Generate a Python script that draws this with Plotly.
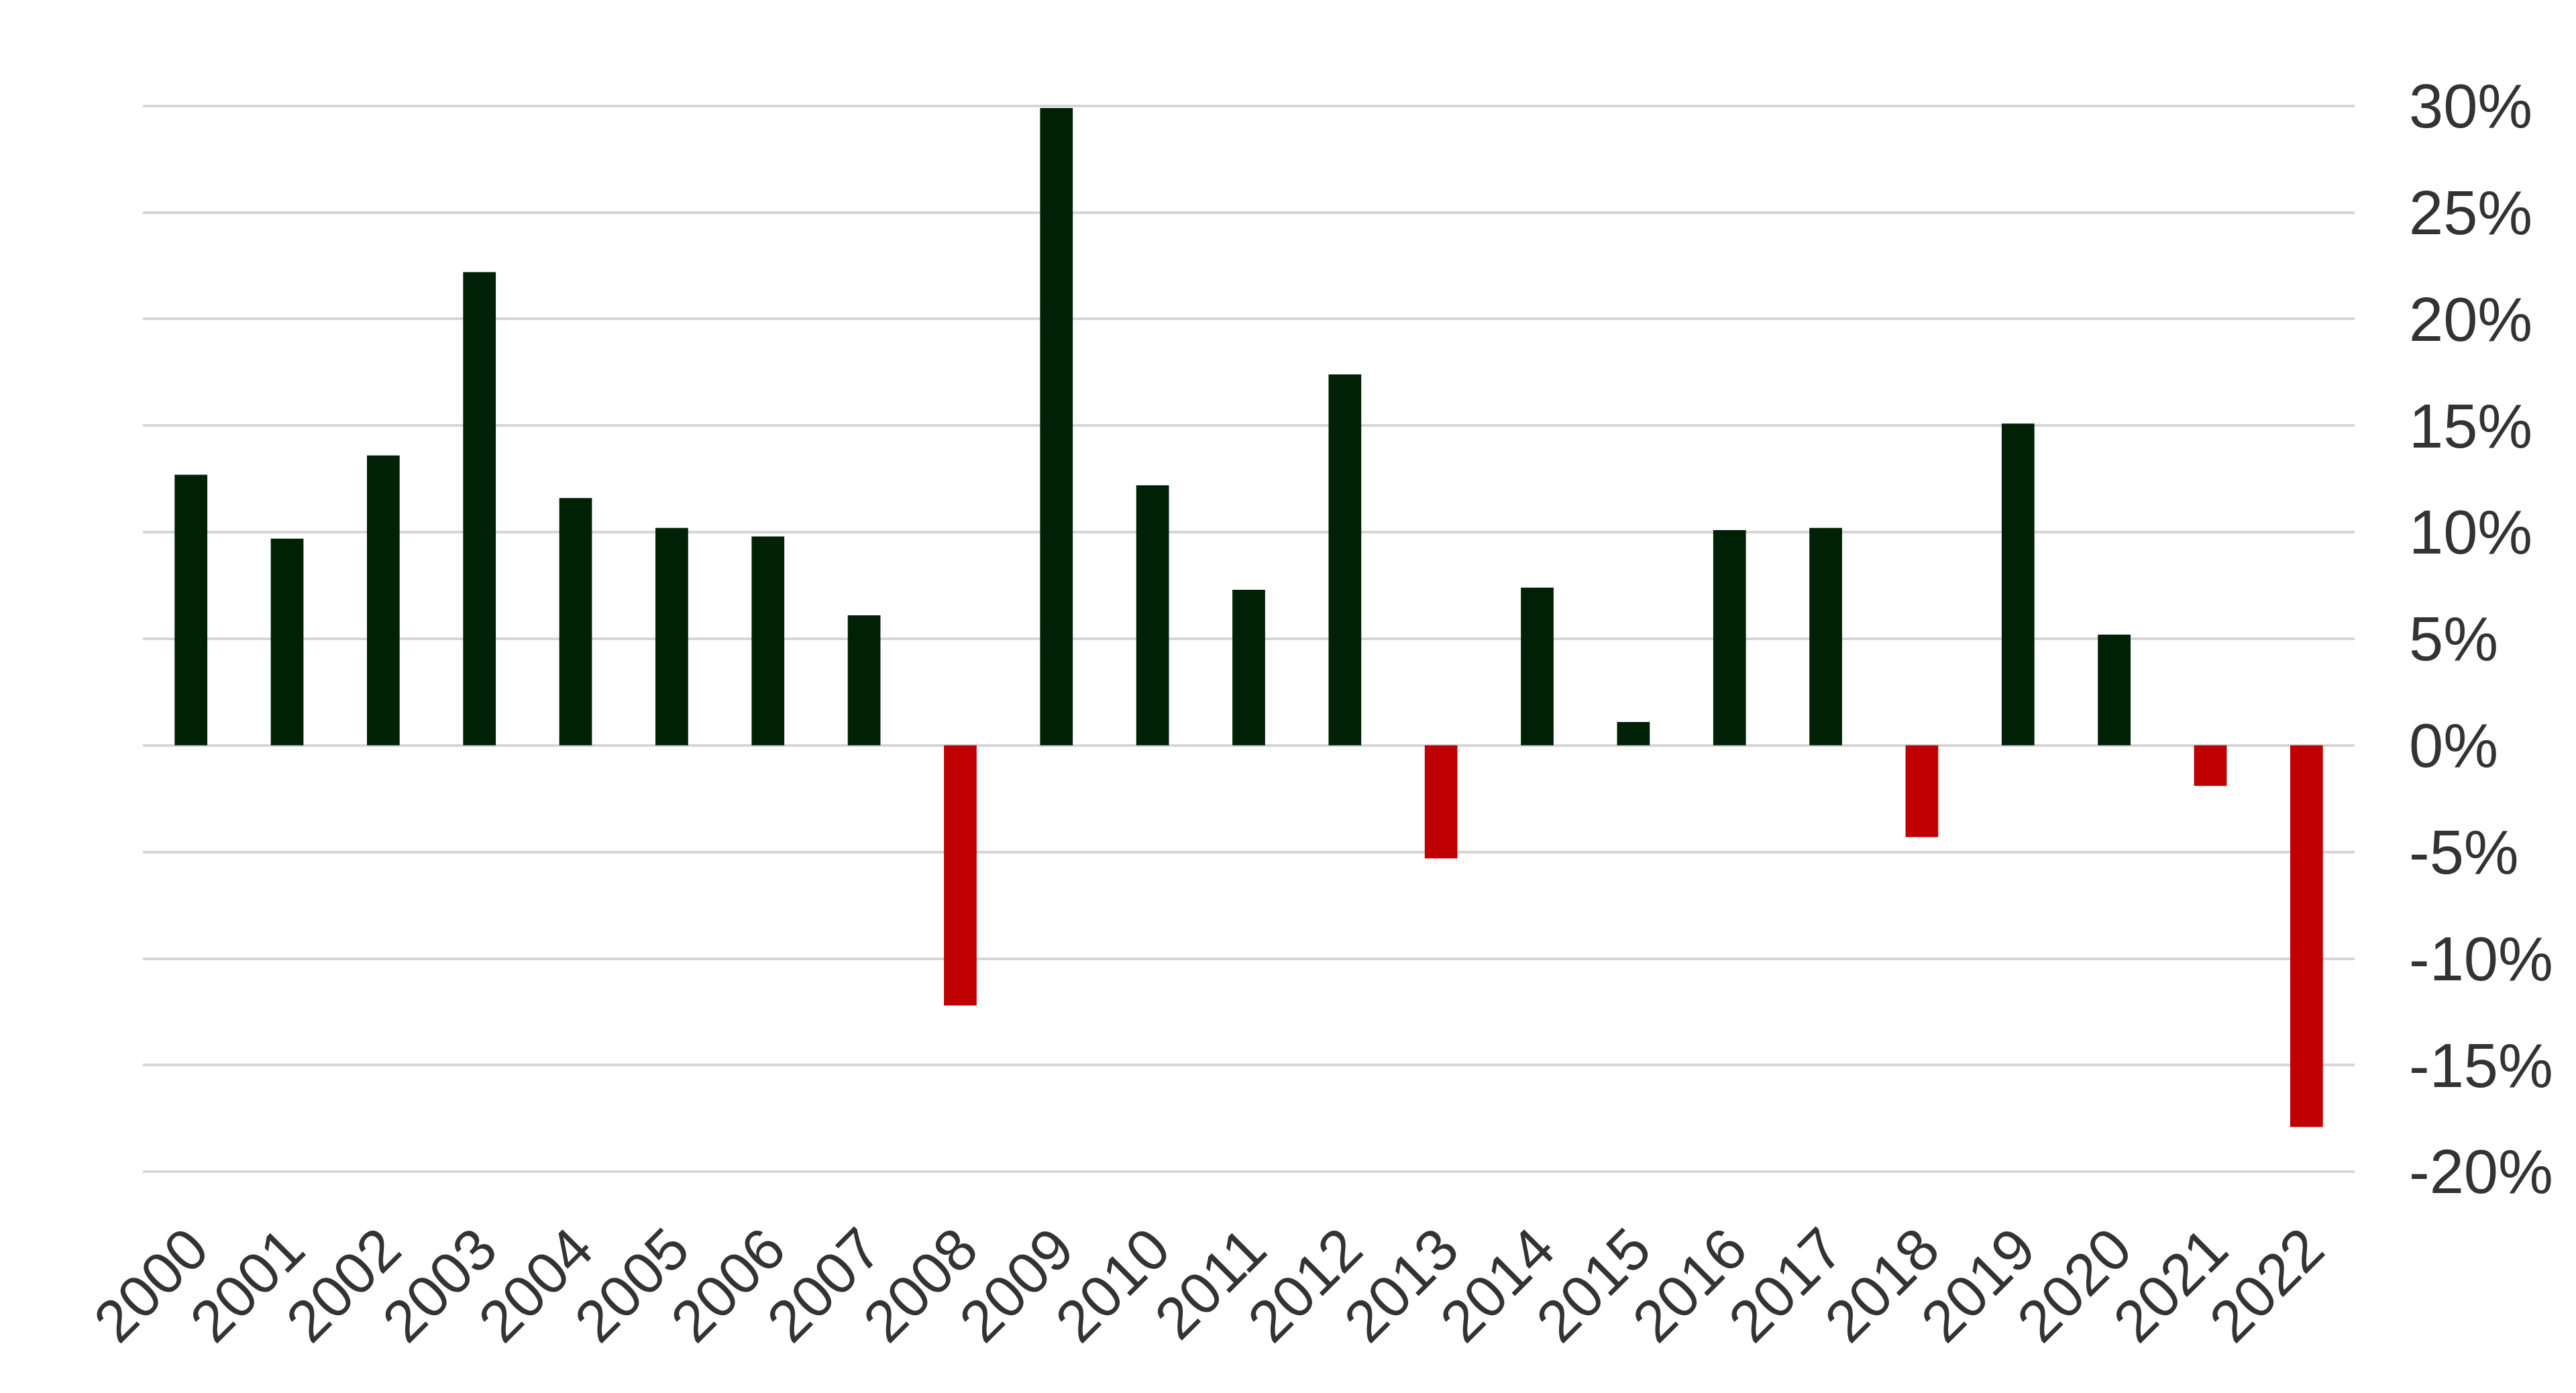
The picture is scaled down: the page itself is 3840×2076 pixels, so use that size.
import plotly.graph_objects as go

years = [str(y) for y in range(2000, 2023)]
returns = [12.7, 9.7, 13.6, 22.2, 11.6, 10.2, 9.8, 6.1, -12.2, 29.9,
           12.2, 7.3, 17.4, -5.3, 7.4, 1.1, 10.1, 10.2, -4.3, 15.1,
           5.2, -1.9, -17.9]
tick_vals = [-20, -15, -10, -5, 0, 5, 10, 15, 20, 25, 30]
tick_text = ["-20%", "-15%", "-10%", "-5%", "0%", "5%", "10%", "15%", "20%", "25%", "30%"]

POS = "#012106"
NEG = "#c00000"
colors = [POS if v >= 0 else NEG for v in returns]

fig = go.Figure(go.Bar(
    x=years, y=returns,
    marker=dict(color=colors, line=dict(width=0)),
))

fig.update_layout(
    width=3840, height=2076,
    margin=dict(l=205, r=338, t=145, b=333),
    paper_bgcolor="white", plot_bgcolor="white",
    bargap=0.66,
    showlegend=False,
    font=dict(family="Liberation Sans, Arial, sans-serif", color="#333333"),
)
fig.update_xaxes(
    type="category", range=[-0.5, 22.5],
    tickangle=-45, tickfont=dict(size=88, color="#333333"),
    showgrid=False, showline=False, ticks="",
    ticklabelstandoff=40,
)
fig.update_yaxes(
    side="right", range=[-20.15, 30.15],
    tickmode="array", tickvals=tick_vals, ticktext=tick_text,
    tickfont=dict(size=92, color="#333333"),
    showgrid=True, gridcolor="#d6d6d6", gridwidth=4,
    zeroline=False, showline=False, ticks="",
    ticklabelstandoff=80,
)

fig.write_html("out.html")
